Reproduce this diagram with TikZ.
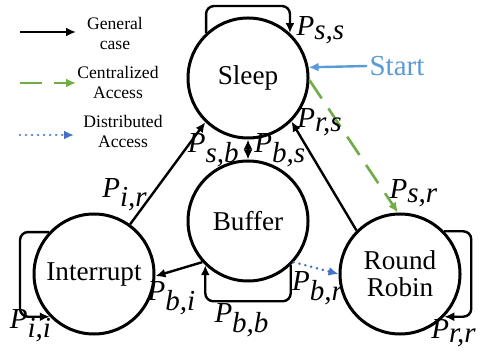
\documentclass[tikz,border=0pt]{standalone}
\usepackage{fontspec}
\setmainfont{Liberation Serif}
\usetikzlibrary{arrows.meta}
\definecolor{cgreen}{HTML}{70AD47}
\definecolor{cblue}{HTML}{4472C4}
\definecolor{sblue}{HTML}{5B9BD5}
\newcommand{\prob}[2]{$\textit{P}_{\textit{#1,#2}}$}
\begin{document}
\begin{tikzpicture}[x=0.5pt, y=-0.5pt,
	state/.style={draw, circle, line width=1.5pt, minimum size=60pt, inner sep=0pt, align=center, font=\fontsize{13.6}{13.5}\selectfont},
	trans/.style={line width=1.2pt, -{Latex[length=5pt, width=4.5pt]}},
	selfloop/.style={trans, rounded corners=4pt},
	central/.style={line width=1.3pt, cgreen, dash pattern=on 11pt off 6pt, -{Latex[length=5pt, width=4.5pt]}},
	distrib/.style={line width=1.4pt, cblue, line cap=round, dash pattern=on 0.01pt off 3pt, -{Latex[length=5pt, width=4.5pt]}},
	lbl/.style={font=\fontsize{14.5}{15}\selectfont, inner sep=1pt},
	legend/.style={align=center, font=\fontsize{8.8}{10}\selectfont}]
	\useasboundingbox (0,0) rectangle (480,351);
	% states
	\node [state] (sleep) at (248,78) {Sleep};
	\node [state] (buf) at (248,221) {Buffer};
	\node [state] (int) at (94,274) {Interrupt};
	\node [state] (rr) at (400,274) {Round\\Robin};
	% self loops
	\draw [selfloop] (sleep.133) -- ++(0,-27) -| (sleep.47);
	\draw [selfloop] (int.137) -- ++(-29,0) |- (int.224);
	\draw [selfloop] (buf.314) -- ++(0,36) -| (buf.226);
	\draw [selfloop] (rr.44) -- ++(27,0) |- (rr.316);
	% transitions
	\draw [trans] (int.54) -- (sleep.226);
	\draw [trans] (rr.135) -- (sleep.315);
	\draw [trans, {Latex[length=5pt, width=4.5pt]}-{Latex[length=5pt, width=4.5pt]}] (sleep.south) -- (buf.north);
	\draw [trans] (buf.222) -- (int.358);
	\draw [distrib] (buf.318) -- (rr.west);
	\draw [central] (sleep.358) -- (rr.92);
	\node [lbl, text=sblue] (start) at (397,66) {Start};
	\draw [line width=1.2pt, sblue, -{Latex[length=5pt, width=4.5pt]}] (start.west) -- (sleep.10);
	% probabilities
	\node [lbl] (pss) at (321,30) {\prob{s}{s}};
	\node [lbl] (prs) at (320,122) {\prob{r}{s}};
	\node [lbl, anchor=east] (psb) at (242,150) {\prob{s}{b}};
	\node [lbl, anchor=west] (pbs) at (252,150) {\prob{b}{s}};
	\node [lbl] (pir) at (125,195) {\prob{i}{r}};
	\node [lbl] (pbi) at (172,298) {\prob{b}{i}};
	\node [lbl] (pii) at (31,326) {\prob{i}{i}};
	\node [lbl] (pbb) at (242,320) {\prob{b}{b}};
	\node [lbl] (psr) at (414,193) {\prob{s}{r}};
	\node [lbl] (pbr) at (318,288) {\prob{b}{r}};
	\node [lbl, anchor=east] (prr) at (479,333) {\prob{r}{r}};
	% legend
	\coordinate (ga) at (20,32);
	\coordinate (gb) at (76,32);
	\coordinate (ca) at (20,83);
	\coordinate (cb) at (76,83);
	\coordinate (da) at (20,135);
	\coordinate (db) at (74,135);
	\draw [trans] (ga) -- (gb);
	\draw [central] (ca) -- (cb);
	\draw [distrib] (da) -- (db);
	\node [legend] (gen) at (115,33) {General\\case};
	\node [legend] (cen) at (118,82) {Centralized\\Access};
	\node [legend] (dis) at (123,131) {Distributed\\Access};
\end{tikzpicture}
\end{document}
